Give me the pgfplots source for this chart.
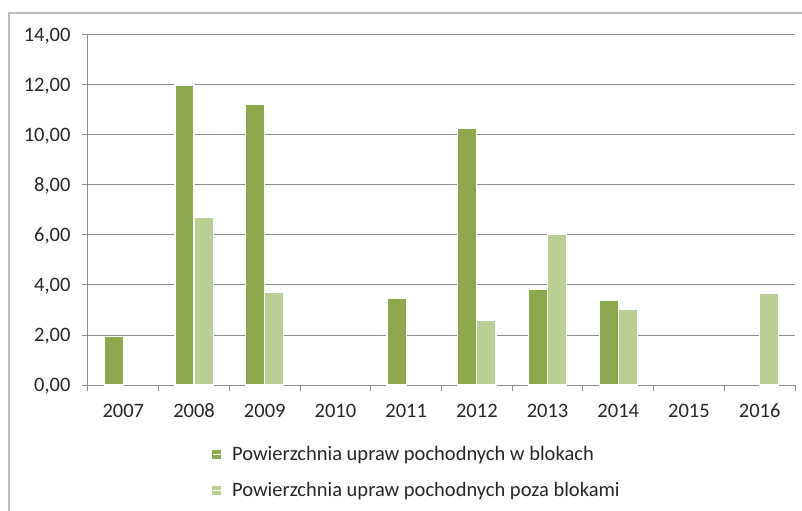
\documentclass[border=0pt]{standalone}
\usepackage{pgfplots}
\pgfplotsset{compat=1.18}
\usepackage{fontspec}
\setmainfont{Carlito}
\definecolor{darkg}{HTML}{8BA84C}
\definecolor{lightg}{HTML}{B9CF93}
\definecolor{gridg}{HTML}{8C8C8C}
\definecolor{frameg}{HTML}{BEBEBE}
\definecolor{txt}{HTML}{262626}
\begin{document}
\begin{tikzpicture}
\path[use as bounding box] (-88bp,-126bp) rectangle (714bp,385bp);
\draw[frameg, line width=1.5bp] (-79bp,-140bp) -- (-79bp,372bp) -- (730bp,372bp);
\begin{axis}[
  at={(0bp,0bp)}, anchor=south west,
  scale only axis, width=707bp, height=350bp,
  xmin=-0.5, xmax=9.5, ymin=0, ymax=14,
  xtick={-0.5,0.5,...,9.5},
  x tick label as interval,
  xticklabels={2007,2008,2009,2010,2011,2012,2013,2014,2015,2016},
  ytick={0,2,...,14},
  axis lines*=left,
  axis line style={gridg, line width=1bp},
  ymajorgrids, xmajorgrids=false,
  grid style={gridg, line width=1bp},
  tick align=outside,
  major tick length=6bp,
  tick style={gridg, line width=1bp},
  tick label style={font=\fontsize{20.5bp}{24bp}\selectfont, text=txt, text height=13bp, text depth=0bp},
  xticklabel style={yshift=-10bp},
  yticklabel style={xshift=-8bp, /pgf/number format/fixed, /pgf/number format/fixed zerofill, /pgf/number format/precision=2, /pgf/number format/use comma},
  /pgf/number format/assume math mode=true,
  legend style={at={(0.175,-0.17)}, anchor=north west, draw=none, fill=none,
    font=\fontsize{20.5bp}{24bp}\selectfont, text=txt, row sep=16bp, inner sep=0pt},
  legend cell align=left,
]
\addplot[ybar, bar width=0.27, bar shift=-0.135, fill=darkg, draw=white, line width=1.2bp,
  legend image code/.code={\fill[darkg] (0bp,-4bp) rectangle (8bp,4bp); \path (0bp,0bp) -- (17bp,0bp);}]
  coordinates {(0,1.95) (1,12.00) (2,11.23) (4,3.45) (5,10.25) (6,3.83) (7,3.37)};
\addlegendentry{Powierzchnia upraw pochodnych w blokach}
\addplot[ybar, bar width=0.27, bar shift=0.135, fill=lightg, draw=white, line width=1.2bp,
  legend image code/.code={\fill[lightg] (0bp,-4bp) rectangle (8bp,4bp); \path (0bp,0bp) -- (17bp,0bp);}]
  coordinates {(1,6.69) (2,3.69) (5,2.60) (6,6.03) (7,3.03) (9,3.68)};
\addlegendentry{Powierzchnia upraw pochodnych poza blokami}
\end{axis}
\end{tikzpicture}
\end{document}
